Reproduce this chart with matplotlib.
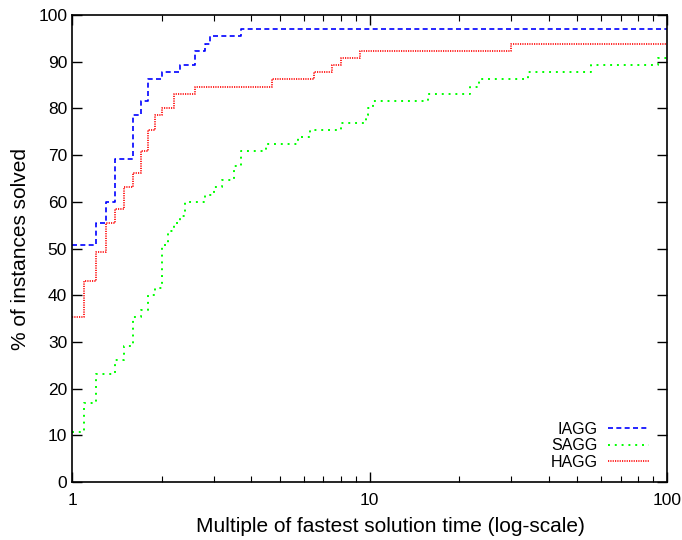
import matplotlib
matplotlib.use("Agg")
import matplotlib.pyplot as plt
from matplotlib.ticker import LogLocator, NullFormatter, FixedLocator, FixedFormatter

plt.rcParams["font.family"] = ["Liberation Sans", "DejaVu Sans"]

# step breakpoints (multiple of fastest time) and % of instances solved
iagg_x = [1, 1.2, 1.3, 1.4, 1.6, 1.7, 1.8, 2.0, 2.3, 2.6, 2.8, 2.9, 3.7, 100]
iagg_y = [50.8, 55.4, 60.0, 69.2, 78.5, 81.5, 86.2, 87.7, 89.2, 92.3, 93.8, 95.4, 96.9, 96.9]

sagg_x = [1, 1.1, 1.2, 1.4, 1.5, 1.6, 1.7, 1.8, 1.9, 2.0, 2.1, 2.2, 2.3, 2.4, 2.8,
          3.0, 3.2, 3.5, 3.7, 4.5, 5.75, 6.3, 8.0, 9.7, 9.9, 10.3, 15.7, 21.7, 23.4,
          34.2, 55.7, 93.5, 100]
sagg_y = [10.8, 16.9, 23.1, 26.2, 29.2, 35.4, 36.9, 40.0, 41.5, 50.8, 53.8, 55.4, 56.9,
          60.0, 61.5, 63.1, 64.6, 67.7, 70.8, 72.3, 73.8, 75.4, 76.9, 78.5, 80.0, 81.5,
          83.1, 84.6, 86.2, 87.7, 89.2, 90.8, 90.8]

hagg_x = [1, 1.1, 1.2, 1.3, 1.4, 1.5, 1.6, 1.7, 1.8, 1.9, 2.0, 2.2, 2.6, 4.7, 6.5,
          7.5, 8.0, 9.3, 30, 100]
hagg_y = [35.4, 43.1, 49.2, 55.4, 58.5, 63.1, 66.2, 70.8, 75.4, 78.5, 80.0, 83.1, 84.6,
          86.2, 87.7, 89.2, 90.8, 92.3, 93.8, 93.8]

fig = plt.figure(figsize=(6.82, 5.4), dpi=100)
ax = fig.add_axes([0.1056, 0.1074, 0.8724, 0.8648])

ax.plot(iagg_x, iagg_y, drawstyle="steps-post", color="#0000ff", lw=1.2,
        linestyle=(0, (3, 2)), label="IAGG")
ax.plot(sagg_x, sagg_y, drawstyle="steps-post", color="#00ff00", lw=1.4,
        linestyle=(0, (1, 2.5)), label="SAGG")
ax.plot(hagg_x, hagg_y, drawstyle="steps-post", color="#ff0000", lw=1.2,
        linestyle=(0, (0.7, 0.7)), label="HAGG")

ax.set_xscale("log")
ax.set_xlim(1, 100)
ax.set_ylim(0, 100)
ax.xaxis.set_major_locator(FixedLocator([1, 10, 100]))
ax.xaxis.set_major_formatter(FixedFormatter(["1", "10", "100"]))
ax.xaxis.set_minor_locator(LogLocator(base=10, subs=range(2, 10)))
ax.xaxis.set_minor_formatter(NullFormatter())
ax.set_yticks(range(0, 101, 10))

ax.tick_params(which="both", direction="in", top=True, right=True, labelsize=12.5)
ax.tick_params(which="major", length=7, width=1)
ax.tick_params(which="minor", length=4, width=0.8)
ax.tick_params(axis="x", pad=8)
for s in ax.spines.values():
    s.set_linewidth(1.2)

ax.set_xlabel("Multiple of fastest solution time (log-scale)", fontsize=15)
ax.xaxis.set_label_coords(0.536, -0.075)
ax.set_ylabel("% of instances solved", fontsize=15, labelpad=6)

ax.legend(loc="lower right", frameon=False, markerfirst=False, fontsize=11.5,
          handlelength=2.6, handletextpad=0.65, labelspacing=0.1,
          borderaxespad=0.7, bbox_to_anchor=(1.0, -0.012))

fig.savefig("out.png", dpi=100)
